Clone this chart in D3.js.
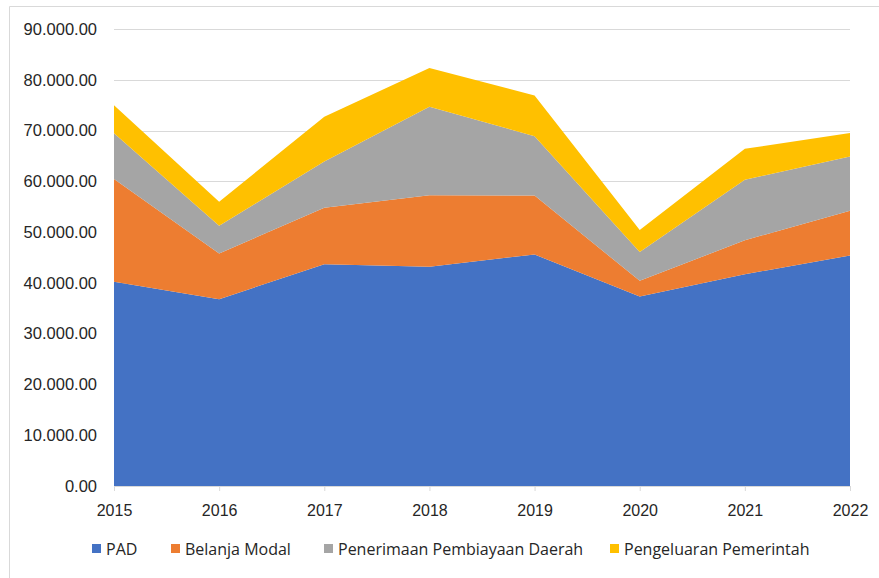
<!DOCTYPE html>
<html>
<head>
<meta charset="utf-8">
<script src="https://cdn.jsdelivr.net/npm/d3@7"></script>
<style>
  body { margin: 0; background: #fff; }
  svg { display: block; font-family: "Open Sans", "Noto Sans", sans-serif; }
</style>
</head>
<body>
<svg id="chart" width="879" height="578"></svg>
<script>
var years = [2015, 2016, 2017, 2018, 2019, 2020, 2021, 2022];
var seriesNames = ["PAD", "Belanja Modal", "Penerimaan Pembiayaan Daerah", "Pengeluaran Pemerintah"];
var pad = [40200, 36800, 43650, 43200, 45600, 37300, 41700, 45400];
var belanjaModal = [20260, 9000, 11150, 14050, 11600, 3100, 6700, 8800];
var penerimaan = [8990, 5460, 9100, 17450, 11700, 5700, 11900, 10700];
var pengeluaran = [5550, 4740, 8800, 7600, 8000, 4300, 6100, 4600];
var yTicks = [0, 10000, 20000, 30000, 40000, 50000, 60000, 70000, 80000, 90000];
var colors = ["#4472C4", "#ED7D31", "#A5A5A5", "#FFC000"];

var svg = d3.select("#chart");
var W = 879, H = 578;
var mLeft = 114, mRight = 850, mTop = 29, mBottom = 486;

// frame (only left and top edges show)
svg.append("line").attr("x1", 9.5).attr("x2", W).attr("y1", 6.5).attr("y2", 6.5)
  .attr("stroke", "#d9d9d9").attr("stroke-width", 1);
svg.append("line").attr("x1", 9.5).attr("x2", 9.5).attr("y1", 6.5).attr("y2", H)
  .attr("stroke", "#d9d9d9").attr("stroke-width", 1);

var x = d3.scalePoint().domain(years).range([mLeft, mRight]);
var y = d3.scaleLinear().domain([0, 90000]).range([mBottom, mTop]);

var rows = years.map(function(yr, i) {
  return { year: yr, s0: pad[i], s1: belanjaModal[i], s2: penerimaan[i], s3: pengeluaran[i] };
});
var stack = d3.stack().keys(["s0", "s1", "s2", "s3"]);
var layers = stack(rows);

// gridlines
svg.append("g").selectAll("line").data(yTicks.slice(1)).enter().append("line")
  .attr("x1", mLeft).attr("x2", mRight)
  .attr("y1", function(d) { return Math.round(y(d)) + 0.5; })
  .attr("y2", function(d) { return Math.round(y(d)) + 0.5; })
  .attr("stroke", "#d9d9d9").attr("stroke-width", 1);

var area = d3.area()
  .x(function(d) { return x(d.data.year); })
  .y0(function(d) { return y(d[0]); })
  .y1(function(d) { return y(d[1]); });

svg.append("g").selectAll("path").data(layers).enter().append("path")
  .attr("d", area)
  .attr("fill", function(d, i) { return colors[i]; });

// x axis
var xAxis = d3.axisBottom(x).tickSize(5).tickPadding(14);
var gx = svg.append("g").attr("transform", "translate(0," + mBottom + ")").call(xAxis);
gx.select(".domain").attr("stroke", "#d9d9d9");
gx.selectAll(".tick line").attr("stroke", "#d9d9d9");
gx.selectAll("text").attr("fill", "#262626").style("font-size", "16px").style("font-family", "inherit");

// y axis labels
var fmt = function(v) { return d3.format(",.2f")(v).replace(/,/g, "."); };
var yAxis = d3.axisLeft(y).tickValues(yTicks).tickSize(0).tickPadding(17).tickFormat(fmt);
var gy = svg.append("g").attr("transform", "translate(" + mLeft + ",0)").call(yAxis);
gy.select(".domain").remove();
gy.selectAll("text").attr("fill", "#262626").style("font-size", "16.5px").style("font-family", "inherit");

// legend
var legendX = [92, 171, 324, 610];
var lg = svg.append("g").selectAll("g").data(seriesNames).enter().append("g")
  .attr("transform", function(d, i) { return "translate(" + legendX[i] + ",549)"; });
lg.append("rect").attr("x", 0).attr("y", -5).attr("width", 9).attr("height", 9)
  .attr("fill", function(d, i) { return colors[i]; });
lg.append("text").attr("x", 14).attr("y", 0).attr("dy", "0.35em")
  .attr("fill", "#262626").style("font-size", "16px")
  .text(function(d) { return d; });
</script>
</body>
</html>
